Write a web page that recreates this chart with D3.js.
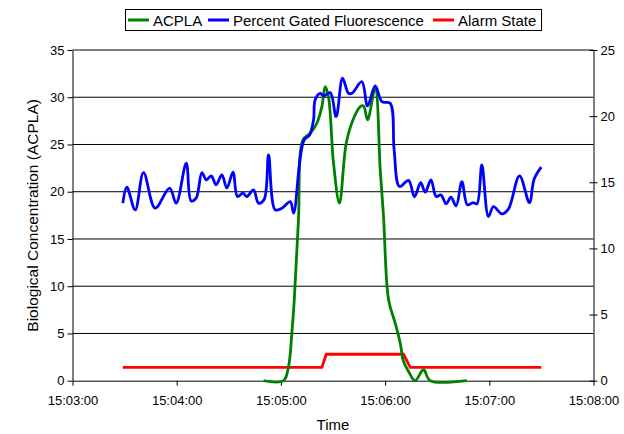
<!DOCTYPE html>
<html><head><meta charset="utf-8">
<script src="https://cdn.jsdelivr.net/npm/d3@7"></script>
<style>
html,body{margin:0;padding:0;background:#fff;}
svg{display:block;font-family:"Liberation Sans",Arial,sans-serif;}
</style></head>
<body><div id="chart"></div>
<script>
// ---- data (time = seconds after 15:03:00) ----
const baseTime = "15:03:00";
const xTickLabels = ["15:03:00","15:04:00","15:05:00","15:06:00","15:07:00","15:08:00"];
const leftTicks = [0,5,10,15,20,25,30,35];
const rightTicks = [0,5,10,15,20,25];

const fluorSec = [29.0,31.3,36.1,40.9,47.6,55.9,59.7,65.5,68.3,71.2,74.5,77.0,79.9,82.7,86.0,88.9,92.4,95.0,98.1,100.4,104.2,107.1,110.4,112.9,116.7,120.6,125.4,127.3,131.1,133.4,136.5,138.8,139.7,142.6,144.5,148.4,151.8,155.5,158.9,160.9,166.6,169.9,174.3,178.2,182.9,185.2,188.3,193.5,196.9,200.5,203.1,206.4,209.4,212.1,215.2,217.9,220.9,224.2,227.4,230.6,232.9,235.7,239.5,242.4,247.3,251.0,257.4,263.1,265.8,269.9];
const fluorVal = [18.79,20.48,18.08,22.03,18.26,20.38,18.79,23.02,19.03,19.32,22.03,21.25,21.68,20.73,21.78,20.38,22.07,19.49,19.85,19.49,20.20,18.79,19.21,23.90,18.08,18.26,18.96,17.73,23.58,25.48,26.01,27.60,29.71,30.42,30.14,30.49,27.95,32.01,30.42,30.42,31.65,29.08,31.19,29.53,29.36,24.43,20.55,21.20,19.46,20.96,19.95,21.25,19.49,19.67,18.72,19.42,18.50,21.07,18.61,18.85,18.72,22.84,17.37,18.43,17.66,18.16,21.68,18.85,21.33,22.60];

const acplaSec = [110.0,121.5,124.4,126.3,127.7,130.1,132.7,136.9,140.7,143.6,145.5,147.4,150.3,153.7,157.6,161.5,165.7,167.6,169.9,174.3,177.2,179.1,182.0,185.8,188.7,190.6,193.5,197.3,202.1,206.0,227.1];
const acplaVal = [0,0,1.51,5.04,8.56,17.02,25.48,26.19,27.25,29.0,31.12,30.06,23.02,18.79,25.13,27.60,29.0,29.08,27.60,30.95,22.31,17.37,8.56,6.10,3.99,2.04,0.98,0,1.16,0,0];

const alarmSec = [29.0,143.6,146.1,190.6,194.5,269.9];
const alarmVal = [1,1,2,2,1,1];

const seriesNames = ["ACPLA","Percent Gated Fluorescence","Alarm State"];
const seriesColors = ["#008000","#0000ff","#ff0000"];

// ---- layout ----
const W = 624, H = 434;
const svg = d3.select("#chart").append("svg").attr("width",W).attr("height",H);
const parse = d3.timeParse("%H:%M:%S");
const t0 = parse(baseTime);
const toDate = s => new Date(t0.getTime() + s*1000);

const x = d3.scaleTime().domain([parse("15:03:00"), parse("15:08:00")]).range([72.5, 593.5]);
const yL = d3.scaleLinear().domain([0,35]).range([380.7, 50]);
const yR = d3.scaleLinear().domain([0,25]).range([380.7, 50]);

// gridlines
svg.append("g").selectAll("line").data(leftTicks.filter(d=>d>0)).join("line")
  .attr("x1",x.range()[0]).attr("x2",x.range()[1])
  .attr("y1",d=>yL(d)).attr("y2",d=>yL(d))
  .attr("stroke","#000").attr("stroke-width",1);

// axes
const fontTick = 13;
const xAxis = svg.append("g").attr("transform",`translate(0,${yL(0)})`)
  .call(d3.axisBottom(x).tickValues(xTickLabels.map(parse)).tickFormat(d3.timeFormat("%H:%M:%S")).tickSize(5).tickSizeOuter(0).tickPadding(10));
const yAxisL = svg.append("g").attr("transform",`translate(${x.range()[0]},0)`)
  .call(d3.axisLeft(yL).tickValues(leftTicks).tickSize(5).tickSizeOuter(0).tickPadding(3));
const yAxisR = svg.append("g").attr("transform",`translate(${x.range()[1]},0)`)
  .call(d3.axisRight(yR).tickValues(rightTicks).tickSizeInner(4).tickSizeOuter(0).tickPadding(3));
yAxisR.selectAll(".tick line").attr("x1",-4).attr("x2",4);
[xAxis,yAxisL,yAxisR].forEach(a=>{
  a.selectAll("path").attr("stroke","#000");
  a.selectAll(".tick line").attr("stroke","#000");
  a.selectAll("text").attr("font-size",fontTick).attr("fill","#000").attr("font-family","Liberation Sans, Arial, sans-serif");
});

// lines
const mk = (sec,val,yS,curve) => d3.line().x((d,i)=>x(toDate(sec[i]))).y((d,i)=>yS(val[i])).curve(curve)(val);
svg.append("path").attr("d",mk(alarmSec,alarmVal,yR,d3.curveLinear))
  .attr("fill","none").attr("stroke",seriesColors[2]).attr("stroke-width",2.8);
svg.append("path").attr("d",mk(acplaSec,acplaVal,yL,d3.curveCatmullRom.alpha(0.5)))
  .attr("fill","none").attr("stroke",seriesColors[0]).attr("stroke-width",2.8).attr("stroke-linejoin","round");
svg.append("path").attr("d",mk(fluorSec,fluorVal,yL,d3.curveCatmullRom.alpha(0.5)))
  .attr("fill","none").attr("stroke",seriesColors[1]).attr("stroke-width",2.8).attr("stroke-linejoin","round");

// titles
svg.append("text").attr("x",(x.range()[0]+x.range()[1])/2).attr("y",430).attr("text-anchor","middle")
  .attr("font-size",15).text("Time");
svg.append("text").attr("transform",`translate(38,${(yL(0)+yL(35))/2}) rotate(-90)`).attr("text-anchor","middle")
  .attr("font-size",15.5).text("Biological Concentration (ACPLA)");

// legend
const lg = svg.append("g");
lg.append("rect").attr("x",125.5).attr("y",9.5).attr("width",416).attr("height",21)
  .attr("fill","#fff").attr("stroke","#000").attr("stroke-width",1);
const legX = [128,208,433];
seriesNames.forEach((n,i)=>{
  lg.append("line").attr("x1",legX[i]).attr("x2",legX[i]+21).attr("y1",20).attr("y2",20)
    .attr("stroke",seriesColors[i]).attr("stroke-width",3);
  lg.append("text").attr("x",legX[i]+25).attr("y",25.5).attr("font-size",15).text(n);
});
</script></body></html>
